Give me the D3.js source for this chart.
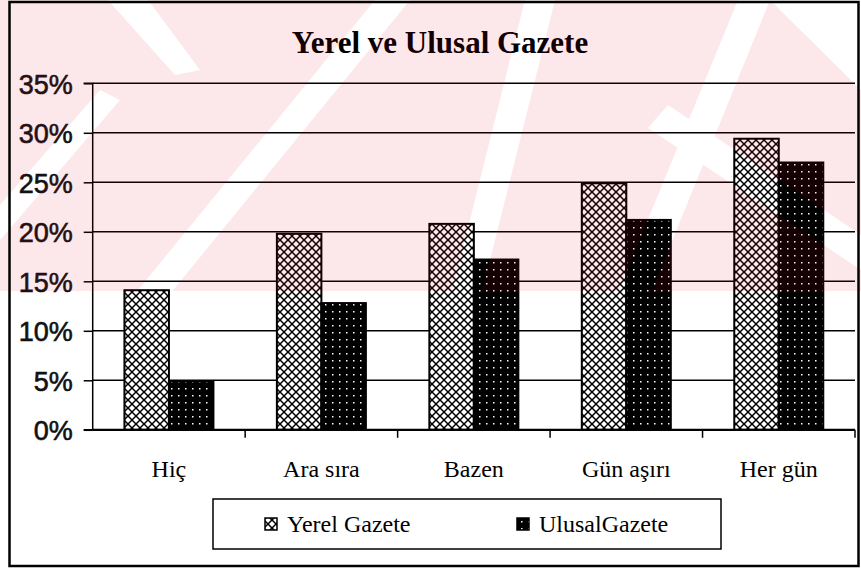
<!DOCTYPE html>
<html><head><meta charset="utf-8">
<script src="https://cdn.jsdelivr.net/npm/d3@7"></script>
<style>html,body{margin:0;padding:0;background:#fff;} svg{display:block}</style>
</head><body><svg id="c" width="861" height="568"></svg>
<script>
const title = "Yerel ve Ulusal Gazete";
const categories = ["Hiç", "Ara sıra", "Bazen", "Gün aşırı", "Her gün"];
const seriesNames = ["Yerel Gazete", "UlusalGazete"];
const yerel = [14.1, 19.8, 20.8, 24.9, 29.4];
const ulusal = [4.9, 12.8, 17.2, 21.2, 27.0];
const yTickValues = [0, 5, 10, 15, 20, 25, 30, 35];
const yTickLabels = ["0%", "5%", "10%", "15%", "20%", "25%", "30%", "35%"];

const SERIF = "'Liberation Serif', 'Times New Roman', serif";
const SANS = "'Liberation Sans', Arial, sans-serif";

const svg = d3.select("#c");
const W = 861, H = 568;
const plot = {left: 92.7, right: 855, top: 83.3, bottom: 429.8};

const defs = svg.append("defs");
const pc = defs.append("pattern").attr("id","cross").attr("patternUnits","userSpaceOnUse")
  .attr("width",8).attr("height",8);
pc.append("rect").attr("width",8).attr("height",8).attr("fill","#fff");
pc.append("path").attr("d","M-1,-1L9,9M9,-1L-1,9").attr("stroke","#000").attr("stroke-width",1.5);
const pd = defs.append("pattern").attr("id","dots").attr("patternUnits","userSpaceOnUse")
  .attr("width",7).attr("height",7);
pd.append("rect").attr("width",7).attr("height",7).attr("fill","#000");
pd.append("rect").attr("x",3).attr("y",3).attr("width",1.5).attr("height",1.5).attr("fill","#fff");
const fills = ["url(#cross)", "url(#dots)"];

svg.append("rect").attr("width",W).attr("height",H).attr("fill","#fff");

const x0 = d3.scaleBand().domain(categories).range([plot.left, plot.right]).padding(0);
const inner = 89;
const off = (x0.bandwidth() - inner) / 2;
const x1 = d3.scaleBand().domain(seriesNames).range([off, off + inner]).padding(0);
const y = d3.scaleLinear().domain([0, 35]).range([plot.bottom, plot.top]);

// gridlines
svg.append("g").selectAll("line").data(yTickValues.slice(1)).join("line")
  .attr("x1", plot.left).attr("x2", plot.right)
  .attr("y1", d => y(d)).attr("y2", d => y(d))
  .attr("stroke", "#000").attr("stroke-width", 1.5);

// bars
const series = [yerel, ulusal];
const g = svg.append("g");
categories.forEach((c, i) => {
  seriesNames.forEach((s, j) => {
    const v = series[j][i];
    g.append("rect")
      .attr("x", x0(c) + x1(s)).attr("y", y(v))
      .attr("width", x1.bandwidth()).attr("height", y(0) - y(v))
      .attr("fill", fills[j]).attr("stroke", "#000").attr("stroke-width", 2);
  });
});

// y axis
const yAxis = d3.axisLeft(y).tickValues(yTickValues).tickFormat((d, i) => yTickLabels[i]).tickSize(9).tickPadding(11);
const ya = svg.append("g").attr("transform", `translate(${plot.left},0)`).call(yAxis);
ya.select(".domain").attr("stroke", "#000").attr("stroke-width", 1.5).attr("d", `M-9,${plot.top}H0V${plot.bottom}H-9`);
ya.selectAll(".tick line").attr("stroke", "#000").attr("stroke-width", 1.5);
ya.selectAll(".tick text").attr("font-family", SANS)
  .attr("font-size", 27).attr("fill", "#111").attr("stroke", "#111").attr("stroke-width", 0.6)
  .attr("dy", "0.36em");

// x axis
const xAxis = d3.axisBottom(x0).tickSize(0).tickFormat("");
const xa = svg.append("g").attr("transform", `translate(0,${plot.bottom})`).call(xAxis);
xa.select(".domain").attr("stroke", "#000").attr("stroke-width", 2.2).attr("d", `M${plot.left},0H${plot.right}`);
const bounds = categories.map(c => x0(c)).concat([plot.right]);
xa.selectAll(".bt").data(bounds.slice(1)).join("line").attr("class","bt")
  .attr("x1", d => d).attr("x2", d => d).attr("y1", 0).attr("y2", 8)
  .attr("stroke", "#000").attr("stroke-width", 1.5);
xa.selectAll(".cl").data(categories).join("text").attr("class","cl")
  .attr("x", d => x0(d) + x0.bandwidth() / 2).attr("y", 47)
  .attr("text-anchor", "middle").style("font-family", SERIF)
  .attr("font-size", 24).attr("fill", "#000").text(d => d);

// title
svg.append("text").attr("x", 440).attr("y", 53).attr("text-anchor", "middle")
  .style("font-family", SERIF).attr("font-weight", "bold")
  .attr("font-size", 31).attr("fill", "#000").text(title);

// legend
const lg = svg.append("g");
lg.append("rect").attr("x", 213).attr("y", 499).attr("width", 508).attr("height", 50)
  .attr("fill", "#fff").attr("stroke", "#000").attr("stroke-width", 1.5);
const legX = [265, 517];
seriesNames.forEach((s, j) => {
  lg.append("rect").attr("x", legX[j]).attr("y", 518).attr("width", 12).attr("height", 12)
    .attr("fill", fills[j]).attr("stroke", "#000").attr("stroke-width", 1.5);
  lg.append("text").attr("x", legX[j] + 22).attr("y", 532)
    .style("font-family", SERIF).attr("font-size", 24)
    .attr("fill", "#000").text(s);
});

// watermark overlay (faint red diagonal bands)
const mask = defs.append("mask").attr("id", "wm");
mask.append("rect").attr("width", W).attr("height", 291).attr("fill", "#fff");
const stripes = [
  "M108,0 L148,0 L200,70 L175,75 Z",
  "M130,300 L165,300 L410,0 L375,0 Z",
  "M450,300 L480,300 L555,0 L525,0 Z",
  "M615,300 L648,300 L770,0 L738,0 Z",
  "M648,128 L668,105 L861,235 L861,270 Z",
  "M770,0 L861,0 L861,90 Z",
  "M0,205 L0,240 L120,100 L100,90 Z"
];
mask.selectAll("path").data(stripes).join("path").attr("d", d => d).attr("fill", "#000");
svg.append("rect").attr("width", W).attr("height", 291).attr("fill", "rgb(230,0,30)")
  .attr("opacity", 0.085).attr("mask", "url(#wm)").style("pointer-events","none");

// outer border
svg.append("rect").attr("x", 9.5).attr("y", 2).attr("width", 849).attr("height", 564)
  .attr("fill", "none").attr("stroke", "#000").attr("stroke-width", 2.5);
</script>
</body></html>
